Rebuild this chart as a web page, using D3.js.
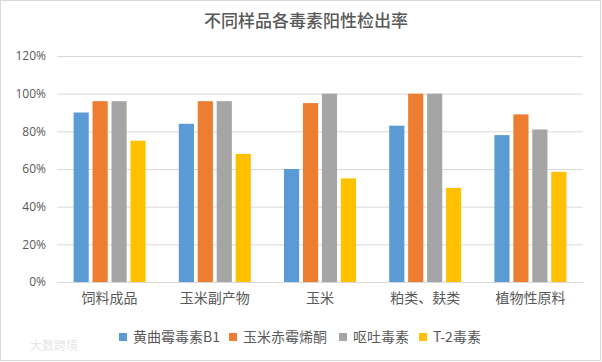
<!DOCTYPE html>
<html><head><meta charset="utf-8">
<script src="https://cdn.jsdelivr.net/npm/d3@7"></script>
<style>
html,body{margin:0;padding:0;background:#fff;}
svg{display:block;}
text{font-family:"Noto Sans CJK SC","Noto Sans",sans-serif;}
</style></head>
<body>
<script>
const categories = ["饲料成品","玉米副产物","玉米","粕类、麸类","植物性原料"];
const seriesNames = ["黄曲霉毒素B1","玉米赤霉烯酮","呕吐毒素","T-2毒素"];
const afb1 = [90, 84, 60, 83, 78];
const zen  = [96, 96, 95, 100, 89];
const don  = [96, 96, 100, 100, 81];
const t2   = [75, 68, 55, 50, 58.5];
const yTicks = [0,20,40,60,80,100,120];
const colors = ["#5B9BD5","#ED7D31","#A5A5A5","#FFC000"];
const seriesValues = [afb1, zen, don, t2];

const W = 602, H = 362;
const svg = d3.select("body").append("svg").attr("width", W).attr("height", H);
svg.append("rect").attr("x",0.5).attr("y",0.5).attr("width",W-2).attr("height",H-2)
  .attr("fill","#fff").attr("stroke","#d9d9d9");

const m = {left:57, right:583, top:56, bottom:282};
const x = d3.scaleBand().domain(categories).range([m.left, m.right]);
const y = d3.scaleLinear().domain([0,120]).range([m.bottom, m.top]);
const xs = d3.scaleBand().domain(d3.range(seriesNames.length)).range([0, 72]).paddingInner(0.2);

// title
svg.append("text").attr("x",306).attr("y",27).attr("text-anchor","middle")
  .attr("font-size",17).attr("font-weight",500).attr("fill","#595959").text("不同样品各毒素阳性检出率");

// grid
const yAxis = d3.axisLeft(y).tickValues(yTicks).tickSize(-(m.right-m.left)).tickFormat(d=>d+"%").tickPadding(11);
const gy = svg.append("g").attr("transform",`translate(${m.left},0)`).call(yAxis);
gy.select(".domain").remove();
gy.selectAll(".tick line").attr("stroke","#d9d9d9");
gy.selectAll(".tick text").attr("fill","#595959").attr("font-size",12)
  .style("font-family","'Open Sans','DejaVu Sans',sans-serif");

// bars
seriesValues.forEach((vals, si) => {
  svg.append("g").selectAll("rect").data(vals).join("rect")
    .attr("x",(d,i)=> x(categories[i]) + (x.bandwidth()-72)/2 + xs(si))
    .attr("width", xs.bandwidth())
    .attr("y", d=>y(d))
    .attr("height", d=>y(0)-y(d))
    .attr("fill", colors[si]);
});

// x axis
const xAxis = d3.axisBottom(x).tickSize(0).tickPadding(11);
const gx = svg.append("g").attr("transform",`translate(0,${m.bottom})`).call(xAxis);
gx.select(".domain").attr("stroke","#d9d9d9");
gx.selectAll(".tick text").attr("fill","#595959").attr("font-size",14);

// legend
const legendX = [119, 229, 339, 419];
const lg = svg.append("g");
seriesNames.forEach((n,i)=>{
  lg.append("rect").attr("x",legendX[i]).attr("y",333).attr("width",8).attr("height",8).attr("fill",colors[i]);
  lg.append("text").attr("x",legendX[i]+14).attr("y",342).attr("font-size",14).attr("fill","#595959").text(n);
});

// watermark
svg.append("text").attr("x",30).attr("y",350).attr("font-size",12).attr("fill","#e6e6e6").text("大数跨境");
</script>
</body></html>
